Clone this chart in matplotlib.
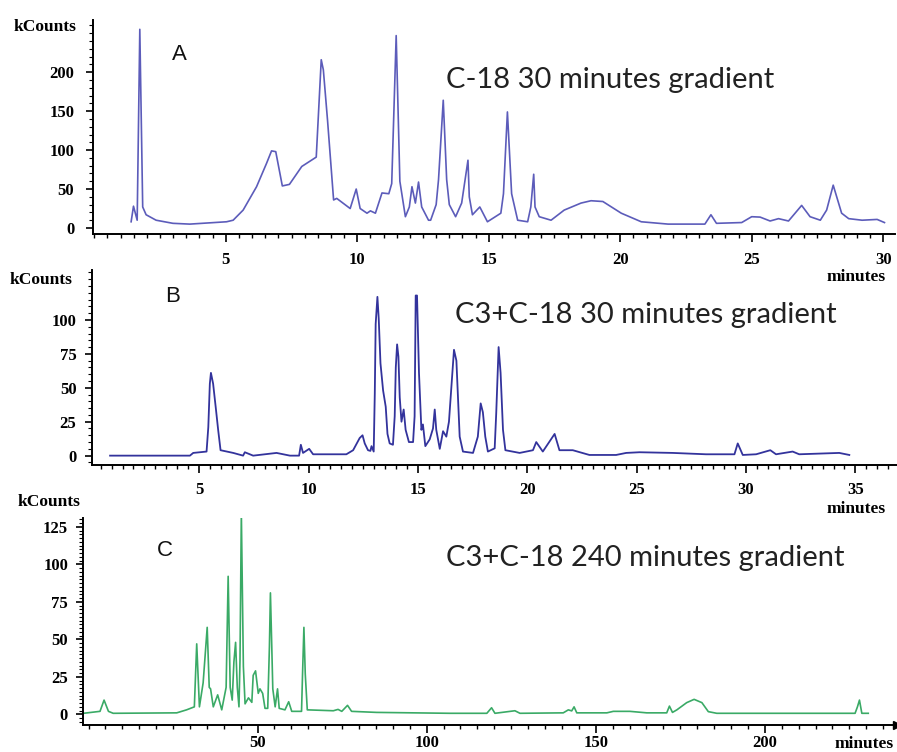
"""Three stacked chromatograms (C-18 vs C3+C-18 columns), kCounts vs minutes."""

import matplotlib
matplotlib.use("Agg")
import matplotlib.pyplot as plt
from matplotlib.ticker import MultipleLocator

# --- panel A: C-18, 30 min gradient (time in minutes, signal in kCounts) ---
time_a = [1.40, 1.49, 1.63, 1.73, 1.84, 1.97, 2.35, 2.99, 3.63, 5.03, 5.28, 5.66,
          6.17, 6.55, 6.74, 6.90, 7.15, 7.42, 7.89, 8.44, 8.63, 8.71, 8.87, 9.10,
          9.22, 9.73, 9.96, 10.11, 10.37, 10.50, 10.69, 10.94, 11.20, 11.31, 11.48,
          11.62, 11.83, 11.98, 12.08, 12.21, 12.33, 12.45, 12.71, 12.79, 13.00, 13.09,
          13.27, 13.40, 13.50, 13.74, 13.97, 14.21, 14.26, 14.38, 14.66, 14.95, 15.46,
          15.56, 15.71, 15.87, 16.10, 16.48, 16.60, 16.71, 16.76, 16.92, 17.37, 17.87,
          18.51, 18.89, 19.34, 20.04, 20.80, 21.82, 23.22, 23.45, 23.66, 24.62, 25.00,
          25.32, 25.70, 26.02, 26.40, 26.60, 26.90, 27.22, 27.61, 27.85, 28.10, 28.42,
          28.69, 29.20, 29.77, 30.05]
counts_a = [8, 28, 10, 255, 27, 17, 10, 6, 5, 8, 10, 23,
            53, 83, 99, 98, 54, 56, 79, 91, 216, 203, 138, 36,
            38, 25, 50, 25, 19, 22, 19, 45, 44, 57, 247,
            60, 14.5, 27, 53, 32, 59, 27, 10, 10, 30, 62,
            164, 62, 30, 14.5, 32, 87, 40, 17, 27, 8, 19,
            44, 149, 44, 10, 8, 27, 69, 27, 14.5, 10, 23,
            32, 35, 34, 19, 8, 5, 5, 17, 6, 7, 14.5,
            14, 9, 12, 9, 17, 29, 14.5, 10, 23, 55, 19,
            12, 10, 11, 7]

# --- panel B: C3+C-18, 30 min gradient ---
time_b = [0.93, 4.58, 4.73, 5.34, 5.42, 5.49, 5.54, 5.64, 5.77, 5.87, 5.98, 6.56,
          7.01, 7.09, 7.47, 8.54, 9.15, 9.57, 9.65, 9.75, 10.03, 10.21, 11.73, 12.04,
          12.34, 12.47, 12.57, 12.72, 12.83, 12.88, 12.98, 13.03, 13.07, 13.15, 13.21,
          13.29, 13.41, 13.53, 13.61, 13.71, 13.86, 13.94, 13.99, 14.05, 14.11, 14.17,
          14.25, 14.35, 14.44, 14.59, 14.78, 14.85, 14.90, 14.96, 15.05, 15.16, 15.23,
          15.34, 15.54, 15.69, 15.77, 15.84, 16.00, 16.15, 16.30, 16.42, 16.55, 16.65,
          16.76, 16.91, 17.06, 17.52, 17.74, 17.87, 17.97, 18.08, 18.20, 18.51, 18.58,
          18.69, 18.78, 18.89, 19.00, 19.65, 20.26, 20.41, 20.71, 21.25, 21.47, 22.08,
          22.84, 24.06, 24.52, 25.13, 26.65, 28.17, 29.47, 29.62, 29.85, 30.46, 31.11,
          31.37, 32.13, 32.43, 34.26, 34.72]
counts_b = [0, 0, 2, 3, 21, 53, 61, 53, 34, 19, 4, 2,
            0, 2.5, 0, 2, 0, 0, 8, 2, 5, 1, 1, 4,
            13, 15, 9, 4, 3.5, 7, 3, 46, 97, 117, 101,
            68, 48, 36, 16, 9, 8, 29, 65, 82, 73, 43,
            25, 34, 19, 10, 10, 29, 118, 118, 61, 19, 23,
            7, 12, 20, 34, 19, 5, 18, 14, 25, 55, 78,
            70, 14, 3, 2, 14, 38.5, 32, 14, 3, 5.4, 31,
            80, 61, 19, 4, 2, 4, 10, 3, 16, 4, 4,
            0.5, 0.5, 2, 2.5, 2, 1, 1, 9, 0.5, 1, 4,
            1, 3, 1, 2, 0.5]

# --- panel C: C3+C-18, 240 min gradient ---
time_c = [-1.5, 3.4, 4.6, 5.9, 7.3, 26.1, 29.0, 31.3, 32.0, 32.8, 33.9, 35.1,
          35.7, 36.1, 36.9, 38.2, 39.4, 40.7, 41.3, 41.9, 42.5, 43.0, 43.5, 44.0,
          44.5, 44.8, 45.2, 45.8, 46.3, 47.3, 48.3, 48.7, 49.4, 50.2, 50.7, 51.5,
          52.2, 53.0, 53.5, 53.8, 54.2, 54.5, 55.2, 55.9, 56.4, 58.1, 59.2, 60.1,
          63.0, 63.3, 63.7, 64.1, 64.7, 72.4, 73.8, 74.9, 76.6, 77.8, 85.2, 106.9,
          117.8, 119.2, 120.2, 126.1, 127.6, 140.4, 141.9, 142.9, 143.6, 144.4, 153.3,
          155.2, 160.1, 165.1, 171.0, 171.8, 172.7, 174.0, 176.9, 179.1, 181.4, 183.3,
          185.8, 226.7, 227.4, 228.0, 228.7, 230.6]
counts_c = [0.7, 2, 9.5, 2, 0.7, 1, 3, 5, 47, 5, 21, 58,
            18, 17, 5, 13, 3, 18, 92, 18, 9.5, 35, 48, 18,
            5, 36, 134, 32, 7, 11, 8, 26, 29, 14, 17, 14,
            4, 4, 45, 81, 45, 17, 5, 17, 4, 3, 8.4, 2,
            2, 27, 58, 27, 3, 2.4, 3.3, 2, 6, 2, 1.3, 0.7,
            0.7, 4.4, 0.7, 2.4, 0.7, 1, 3, 2.3, 5, 1, 1,
            2, 2, 1, 1, 5.5, 1.3, 3, 7.8, 10, 7.8, 1.8,
            0.7, 0.7, 5, 9.5, 0.7, 0.7]

W, H = 897, 752
SERIF = "Liberation Serif"


def fx(px):
    return px / W


def fy(py):
    return 1 - py / H


def style_axis(ax, xlim, ylim, xmaj, xmin, ymaj, ymin, yticks, xpad, ypad):
    ax.set_xlim(*xlim)
    ax.set_ylim(*ylim)
    for side in ("top", "right"):
        ax.spines[side].set_visible(False)
    for side in ("left", "bottom"):
        ax.spines[side].set_linewidth(1.4)
    ax.xaxis.set_major_locator(MultipleLocator(xmaj))
    ax.xaxis.set_minor_locator(MultipleLocator(xmin))
    ax.set_yticks(yticks)
    ax.yaxis.set_minor_locator(MultipleLocator(ymin))
    ax.tick_params(axis="x", which="major", length=6, width=1.2, pad=xpad)
    ax.tick_params(axis="x", which="minor", length=3.2, width=1.0)
    ax.tick_params(axis="y", which="major", length=5, width=1.2, pad=ypad)
    ax.tick_params(axis="y", which="minor", length=3, width=0.8)
    for lab in ax.get_xticklabels() + ax.get_yticklabels():
        lab.set_fontfamily(SERIF)
        lab.set_fontweight("bold")
        lab.set_fontsize(12)


fig = plt.figure(figsize=(W / 100, H / 100), dpi=100)

# panel A
ax_a = fig.add_axes([fx(93), fy(234), fx(895 - 93), (234 - 20) / H])
ax_a.plot(time_a, counts_a, color="#5c5cba", lw=1.2)
style_axis(ax_a, (-0.05, 30.45), (-7.7, 267), 5, 0.5, 50, 10,
           [0, 50, 100, 150, 200], 7, 8.5)
ax_a.set_xticks([5, 10, 15, 20, 25, 30])

# panel B
ax_b = fig.add_axes([fx(91.7), fy(465), fx(897 - 91.7), (465 - 270) / H])
ax_b.plot(time_b, counts_b, color="#33339c", lw=1.3)
style_axis(ax_b, (0.09, 36.9), (-6.9, 136.8), 5, 0.5, 25, 5,
           [0, 25, 50, 75, 100], 6.5, 6)
ax_b.set_xticks([5, 10, 15, 20, 25, 30, 35])

# panel C
ax_c = fig.add_axes([fx(83.3), fy(725), fx(897 - 83.3), (725 - 518.3) / H])
ax_c.plot(time_c, counts_c, color="#3aaa66", lw=1.2)
style_axis(ax_c, (-1.54, 239.1), (-7.1, 130.7), 50, 5, 25, 2.5,
           [0, 25, 50, 75, 100, 125], 1, 6)
ax_c.set_xticks([50, 100, 150, 200])
ax_c.plot(1, 0, marker=">", color="black", markersize=6,
          transform=ax_c.transAxes, clip_on=False)

# axis captions
for x, y in [(45, 27), (41, 280), (49, 502)]:
    fig.text(fx(x), fy(y), "kCounts", family=SERIF, weight="bold",
             fontsize=12.5, ha="center", va="center")
for x, y in [(856, 277), (856, 509), (864, 744)]:
    fig.text(fx(x), fy(y), "minutes", family=SERIF, weight="bold",
             fontsize=12.5, ha="center", va="center")

# panel letters and gradient labels
for x, y, s in [(179, 54, "A"), (173, 297, "B"), (165, 550, "C")]:
    fig.text(fx(x), fy(y), s, family="Liberation Sans", fontsize=16,
             ha="center", va="center", color="#111111")
for x, y, s in [(446, 80, "C-18 30 minutes gradient"),
                (455, 315, "C3+C-18 30 minutes gradient"),
                (446, 558, "C3+C-18 240 minutes gradient")]:
    fig.text(fx(x), fy(y), s, family="Lato", fontsize=21,
             ha="left", va="center", color="#222222")

fig.savefig("out.png", dpi=100)
